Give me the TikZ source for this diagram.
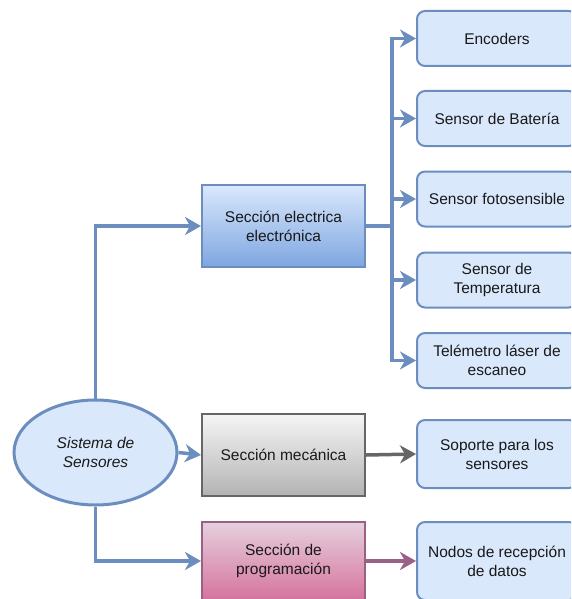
\documentclass[tikz,border=0pt]{standalone}
\usepackage{fontspec}
\setmainfont{Liberation Sans}
\usetikzlibrary{arrows.meta,shapes.geometric}
\definecolor{bline}{HTML}{6C8EBF}
\definecolor{bfill}{HTML}{DAE8FC}
\definecolor{bdark}{HTML}{7EA6E0}
\definecolor{gline}{HTML}{666666}
\definecolor{gtop}{HTML}{F5F5F5}
\definecolor{gbot}{HTML}{B3B3B3}
\definecolor{pline}{HTML}{996185}
\definecolor{ptop}{HTML}{E6D0DE}
\definecolor{pbot}{HTML}{D5739D}
\tikzset{
  txt/.style={font=\fontsize{15.5pt}{19pt}\selectfont, align=center, text=black!90},
  leaf/.style={txt, draw=bline, fill=bfill, line width=2pt, rounded corners=8pt,
    minimum width=160pt, minimum height=55pt, inner sep=2pt},
  sect/.style={txt, line width=2pt, minimum width=163pt, minimum height=82pt, inner sep=2pt},
  conn/.style={line width=3.5pt, -{Stealth[length=16pt,width=18pt,inset=5pt]}},
}
\begin{document}
\begin{tikzpicture}[x=1pt,y=1pt]
\useasboundingbox (0,0) rectangle (571,-599);
\clip (0,0) rectangle (571,-599);
% root
\node[ellipse, draw=bline, fill=bfill, line width=3pt, minimum width=163pt, minimum height=105pt, inner sep=0pt, txt, font=\fontsize{15.5pt}{19pt}\selectfont\itshape]
  (root) at (95.5,-452.5) {Sistema de\\Sensores};
% sections
\node[sect, draw=bline, top color=bfill, bottom color=bdark] (elec) at (283.5,-226) {Sección electrica\\electrónica};
\node[sect, draw=gline, top color=gtop, bottom color=gbot] (mec) at (283.5,-455) {Sección mecánica};
\node[sect, draw=pline, top color=ptop, bottom color=pbot, minimum height=78pt] (prog) at (283.5,-561) {Sección de\\programación};
% leaves
\node[leaf] (e1) at (497,-38.5) {Encoders};
\node[leaf] (e2) at (497,-118.5) {Sensor de Batería};
\node[leaf] (e3) at (497,-199) {Sensor fotosensible};
\node[leaf] (e4) at (497,-280) {Sensor de\\Temperatura};
\node[leaf] (e5) at (497,-360.5) {Telémetro láser de\\escaneo};
\node[leaf, minimum height=68pt] (m1) at (497,-454) {Soporte para los\\sensores};
\node[leaf, minimum height=78pt] (p1) at (497,-561) {Nodos de recepción\\de datos};
% connectors
\draw[conn, draw=bline] (root.north) |- (elec.west);
\draw[conn, draw=bline] (root.east) -- (mec.west);
\draw[conn, draw=bline] (root.south) |- (prog.west);
\coordinate (trunk) at (392,-226);
\draw[line width=3.5pt, draw=bline] (elec.east) -- (trunk);
\foreach \n in {e1,e2,e3,e4,e5}{
  \draw[conn, draw=bline] (trunk) |- (\n.west);
}
\draw[conn, draw=gline] (mec.east) -- (m1.west);
\draw[conn, draw=pline] (prog.east) -- (p1.west);
\end{tikzpicture}
\end{document}
